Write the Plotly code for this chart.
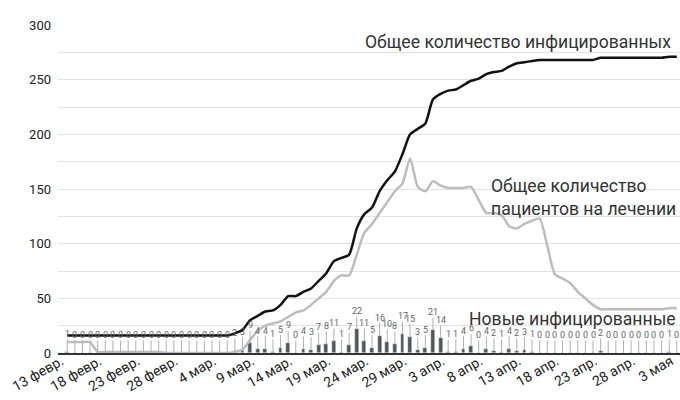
import pandas as pd
import plotly.graph_objects as go

dates = pd.date_range("2020-02-13", "2020-05-03", freq="D")

total_infected = [16] * 22 + [
    18, 21, 30, 34, 38, 39, 44, 52, 52, 56,
    59, 66, 73, 84, 87, 90, 114, 127, 133, 148,
    158, 166, 182, 200, 205, 210, 232, 237, 240, 241,
    245, 249, 251, 255, 257, 258, 262, 265, 266, 267,
] + [268] * 8 + [270] * 9 + [271, 271]

under_treatment = [10, 10, 10, 10] + [1] * 9 + [0] * 9 + [
    1, 3, 12, 20, 25, 27, 29, 33, 37, 39,
    44, 50, 56, 66, 71, 71, 90, 110, 118, 128,
    138, 148, 155, 178, 152, 148, 157, 153, 151, 151,
    151, 152, 140, 128, 128, 126, 116, 114, 118, 121,
] + [123, 98, 72, 68, 64, 56, 50, 44, 40] + [40] * 8 + [41, 41]

new_infected = [1] + [0] * 21 + [
    2, 3, 9, 4, 4, 1, 5, 9, 0, 4,
    3, 7, 8, 11, 1, 7, 22, 11, 5, 16,
    10, 8, 17, 15, 3, 5, 21, 14, 1, 1,
    4, 6, 0, 4, 2, 1, 4, 2, 3, 1,
] + [0] * 8 + [2] + [0] * 8 + [1, 0]

tick_dates = pd.date_range("2020-02-13", "2020-05-03", freq="5D")
tick_labels = ["13 февр.", "18 февр.", "23 февр.", "28 февр.", "4 мар.", "9 мар.",
               "14 мар.", "19 мар.", "24 мар.", "29 мар.", "3 апр.", "8 апр.",
               "13 апр.", "18 апр.", "23 апр.", "28 апр.", "3 мая"]

FONT = "Roboto"

fig = go.Figure()
fig.add_trace(go.Bar(x=dates, y=new_infected, marker_color="#555555",
                     width=0.5 * 86400000, showlegend=False))
fig.add_trace(go.Scatter(x=dates, y=under_treatment, mode="lines",
                         line=dict(color="#bdbdbd", width=2.5, shape="spline", smoothing=0.6),
                         showlegend=False))
fig.add_trace(go.Scatter(x=dates, y=total_infected, mode="lines",
                         line=dict(color="#111111", width=2.5, shape="spline", smoothing=0.6),
                         showlegend=False))

annotations = []
for d, v in zip(dates, new_infected):
    annotations.append(dict(
        x=d, y=v, xref="x", yref="y", text=str(v), showarrow=True,
        ax=0, ay=-18, arrowhead=0, arrowwidth=1, arrowcolor="#b0b0b0",
        standoff=0, font=dict(family=FONT, size=9, color="#666666"),
        borderpad=0,
    ))

annotations += [
    dict(x=1, y=284, xref="paper", yref="y", xanchor="right", yanchor="middle",
         xshift=-7, text="Общее количество инфицированных", showarrow=False,
         font=dict(family=FONT, size=17.6, color="#333333")),
    dict(x="2020-04-08", y=142, xref="x", yref="y", xanchor="left", yanchor="middle",
         xshift=3, text="Общее количество<br>пациентов на лечении", showarrow=False,
         align="left", font=dict(family=FONT, size=17.6, color="#333333")),
    dict(x=1, y=31, xref="paper", yref="y", xanchor="right", yanchor="middle",
         xshift=-2, text="Новые инфицированные", showarrow=False,
         font=dict(family=FONT, size=17.6, color="#333333")),
]

fig.update_layout(
    width=680, height=400,
    margin=dict(l=58, r=0, t=25, b=47),
    paper_bgcolor="white", plot_bgcolor="white",
    font=dict(family=FONT, size=12, color="#222222"),
    bargap=0,
    annotations=annotations,
)
fig.update_xaxes(
    type="date", automargin=False,
    range=["2020-02-11 19:00", "2020-05-03 10:00"],
    tickvals=tick_dates, ticktext=tick_labels, tickangle=-30,
    ticklabeloverflow="allow", ticklabelshift=-6, ticklabelstandoff=-7,
    showgrid=False, showline=True, linecolor="#333333", linewidth=1.5,
    tickfont=dict(family=FONT, size=14, color="#222222"),
    ticks="", zeroline=False,
)
fig.update_yaxes(
    range=[0, 300], tickvals=[0, 50, 100, 150, 200, 250, 300], automargin=False,
    showgrid=True, gridcolor="#e3e3e3", gridwidth=1,
    minor=dict(dtick=25, showgrid=True, gridcolor="#e3e3e3", gridwidth=1),
    zeroline=False, showline=False, ticks="", ticklabelstandoff=6,
    tickfont=dict(family=FONT, size=13, color="#222222"),
)

fig.write_html("out.html", config={"displayModeBar": False},
               post_script="document.body.style.margin='0';document.body.style.overflow='hidden';")
